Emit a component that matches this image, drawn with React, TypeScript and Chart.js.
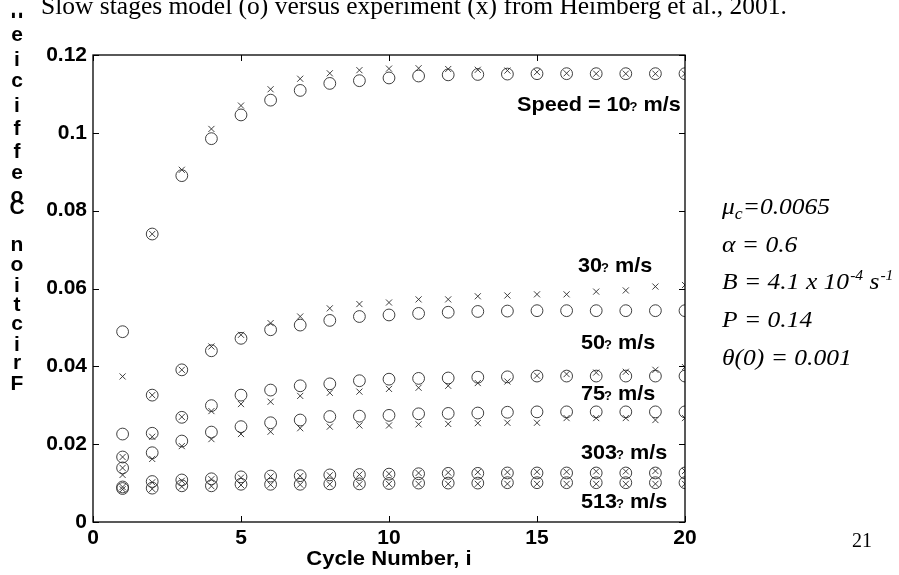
import React, { useEffect, useRef } from "react";
import { Chart, registerables } from "chart.js";

Chart.register(...registerables);

// ---------------- data ----------------
const cycles = [1, 2, 3, 4, 5, 6, 7, 8, 9, 10, 11, 12, 13, 14, 15, 16, 17, 18, 19, 20];

const model10 = [0.0489, 0.074, 0.089, 0.0985, 0.1046, 0.1084, 0.1109, 0.1127, 0.1134, 0.1141, 0.1146, 0.1149, 0.115, 0.1151, 0.1152, 0.1152, 0.1152, 0.1152, 0.1152, 0.1152];
const exp10 = [0.0374, 0.074, 0.0905, 0.101, 0.107, 0.1112, 0.1139, 0.1153, 0.1161, 0.1165, 0.1166, 0.1164, 0.1162, 0.116, 0.1156, 0.1153, 0.1152, 0.1152, 0.1152, 0.1152];

const model30 = [0.0226, 0.0326, 0.0391, 0.044, 0.0472, 0.0494, 0.0506, 0.0518, 0.0528, 0.0532, 0.0536, 0.0539, 0.0541, 0.0542, 0.0543, 0.0543, 0.0543, 0.0543, 0.0543, 0.0543];
const exp30 = [0.0167, 0.0326, 0.0391, 0.0451, 0.0481, 0.0511, 0.0528, 0.0549, 0.056, 0.0564, 0.0572, 0.0572, 0.058, 0.0582, 0.0585, 0.0585, 0.0592, 0.0595, 0.0605, 0.0609];

const model50 = [0.0167, 0.0228, 0.0269, 0.0299, 0.0326, 0.0339, 0.035, 0.0355, 0.0363, 0.0367, 0.0369, 0.037, 0.0372, 0.0373, 0.0375, 0.0375, 0.0375, 0.0375, 0.0375, 0.0375];
const exp50 = [0.0139, 0.0219, 0.027, 0.0285, 0.0303, 0.0309, 0.0324, 0.0332, 0.0335, 0.0342, 0.0345, 0.035, 0.0357, 0.0361, 0.0376, 0.038, 0.0384, 0.0386, 0.0391, 0.0398];

const model75 = [0.0139, 0.0178, 0.0208, 0.0231, 0.0245, 0.0255, 0.0262, 0.0271, 0.0272, 0.0274, 0.0278, 0.0279, 0.028, 0.0282, 0.0283, 0.0283, 0.0283, 0.0283, 0.0283, 0.0283];
const exp75 = [0.0121, 0.0162, 0.0195, 0.0213, 0.0226, 0.0232, 0.0241, 0.0245, 0.0248, 0.0248, 0.0251, 0.0252, 0.0254, 0.0255, 0.0255, 0.0267, 0.0267, 0.0267, 0.0262, 0.0267];

const model303 = [0.009, 0.0104, 0.0108, 0.0111, 0.0116, 0.0118, 0.0119, 0.0121, 0.0122, 0.0123, 0.0124, 0.0125, 0.0125, 0.0126, 0.0126, 0.0126, 0.0126, 0.0126, 0.0126, 0.0126];
const exp303 = [0.009, 0.0102, 0.0106, 0.011, 0.0114, 0.0117, 0.0118, 0.012, 0.0122, 0.0124, 0.0126, 0.0127, 0.0128, 0.0128, 0.0129, 0.0129, 0.013, 0.013, 0.0131, 0.0131];

const model513 = [0.0086, 0.0087, 0.0093, 0.0093, 0.0097, 0.0097, 0.0097, 0.0098, 0.0098, 0.0099, 0.01, 0.01, 0.01, 0.0101, 0.0101, 0.0101, 0.0101, 0.0101, 0.0101, 0.0101];
const exp513 = [0.0084, 0.0085, 0.0091, 0.0092, 0.0095, 0.0096, 0.0096, 0.0097, 0.0097, 0.0098, 0.0098, 0.0098, 0.0098, 0.0098, 0.0098, 0.0098, 0.0098, 0.0098, 0.0098, 0.0098];

const speedNames = ["10", "30", "50", "75", "303", "513"];
const modelSeries = [model10, model30, model50, model75, model303, model513];
const expSeries = [exp10, exp30, exp50, exp75, exp303, exp513];

const xTickValues = [0, 5, 10, 15, 20];
const yTickValues = [0, 0.02, 0.04, 0.06, 0.08, 0.1, 0.12];

const titleText = "Slow stages model (o) versus experiment (x) from Heimberg et al., 2001.";
const xTitle = "Cycle Number, i";
const yTitle = "Friction Coefficient";
const pageNumber = "21";

// ---------------- styles ----------------
const SANS = '"Liberation Sans", Arial, Helvetica, sans-serif';
const SERIF = '"Liberation Serif", "Times New Roman", serif';
const MARK = "#2a2a2a";

function txt(ctx: CanvasRenderingContext2D, s: string, x: number, y: number, font: string, sx = 1): number {
  ctx.save();
  ctx.font = font;
  ctx.translate(x, y);
  ctx.scale(sx, 1);
  ctx.fillText(s, 0, 0);
  const w = ctx.measureText(s).width * sx;
  ctx.restore();
  return w;
}

const decorPlugin = {
  id: "decor",
  afterDraw(chart: any) {
    const ctx: CanvasRenderingContext2D = chart.ctx;
    const a = chart.chartArea;
    const xs = chart.scales.x;
    const ys = chart.scales.y;
    ctx.save();

    // frame
    ctx.strokeStyle = "#000";
    ctx.lineWidth = 1.3;
    ctx.strokeRect(a.left, a.top, a.right - a.left, a.bottom - a.top);

    // inward ticks
    const tl = 6;
    ctx.lineWidth = 1;
    ctx.beginPath();
    xTickValues.forEach((v) => {
      const px = Math.round(xs.getPixelForValue(v)) + 0.5;
      ctx.moveTo(px, a.bottom);
      ctx.lineTo(px, a.bottom - tl);
      ctx.moveTo(px, a.top);
      ctx.lineTo(px, a.top + tl);
    });
    yTickValues.forEach((v) => {
      const py = Math.round(ys.getPixelForValue(v)) + 0.5;
      ctx.moveTo(a.left, py);
      ctx.lineTo(a.left + tl, py);
      ctx.moveTo(a.right, py);
      ctx.lineTo(a.right - tl, py);
    });
    ctx.stroke();

    ctx.fillStyle = "#000";
    ctx.textAlign = "left";
    ctx.textBaseline = "alphabetic";

    // speed labels
    const labelPos = [
      { x: 517, y: 111 },
      { x: 578, y: 272 },
      { x: 581, y: 349 },
      { x: 581, y: 400 },
      { x: 581, y: 459 },
      { x: 581, y: 508 },
    ];
    const big = `bold 21px ${SANS}`;
    const small = `bold 13px ${SANS}`;
    speedNames.forEach((name, i) => {
      const p = labelPos[i];
      const main = (i === 0 ? "Speed = " : "") + name;
      let x = p.x;
      x += txt(ctx, main, x, p.y, big, 1.03) - 1;
      x += txt(ctx, "?", x, p.y, small, 1);
      txt(ctx, " m/s", x, p.y, big, 1.03);
    });

    // x axis title
    ctx.textAlign = "center";
    txt(ctx, xTitle, (a.left + a.right) / 2, 565, `bold 21px ${SANS}`, 1.05);
    ctx.textAlign = "left";

    // y axis title: upright stacked letters (bottom to top)
    ctx.save();
    ctx.beginPath();
    ctx.rect(0, 12.7, 40, 575);
    ctx.clip();
    ctx.font = `bold 21px ${SANS}`;
    ctx.textAlign = "center";
    const centers = [383, 363, 343, 324, 304, 284, 265, 245, null, 207, 196, 173, 150, 127, 104, 81, 58, 35, 12, -10];
    yTitle.split("").forEach((ch, k) => {
      const cy = centers[k];
      if (ch === " " || cy === null) return;
      const m = ctx.measureText(ch);
      const base = cy + (m.actualBoundingBoxAscent - m.actualBoundingBoxDescent) / 2;
      ctx.fillText(ch, 17, base);
    });
    ctx.restore();

    // title (top, partly cut)
    ctx.textAlign = "left";
    txt(ctx, titleText, 41, 14, `25.5px ${SERIF}`, 1);

    // parameter annotations
    const it = `italic 23px ${SERIF}`;
    const itSub = `italic 16px ${SERIF}`;
    const itSup = `italic 14px ${SERIF}`;
    const sx = 1.11;
    const X0 = 722;
    let x = X0;
    x += txt(ctx, "\u03bc", x, 214, it, sx);
    x += txt(ctx, "c", x, 219, itSub, sx);
    txt(ctx, "=0.0065", x, 214, it, sx);

    txt(ctx, "\u03b1 = 0.6", X0, 252, it, sx);

    x = X0;
    x += txt(ctx, "B = 4.1 x 10", x, 289, it, sx);
    x += txt(ctx, "-4", x + 1, 280, itSup, sx) + 1;
    x += txt(ctx, " s", x, 289, it, sx);
    txt(ctx, "-1", x + 1, 280, itSup, sx);

    txt(ctx, "P = 0.14", X0, 327, it, sx);
    txt(ctx, "\u03b8(0) = 0.001", X0, 365, it, sx);

    // page number
    txt(ctx, pageNumber, 852, 547, `20px ${SERIF}`, 1);

    ctx.restore();
  },
};

export default function App() {
  const ref = useRef<HTMLCanvasElement | null>(null);

  useEffect(() => {
    if (!ref.current) return;
    const datasets: any[] = [];
    speedNames.forEach((name, i) => {
      datasets.push({
        label: `model ${name}`,
        data: cycles.map((c, j) => ({ x: c, y: modelSeries[i][j] })),
        pointStyle: "circle",
        pointRadius: 5.9,
        borderColor: MARK,
        backgroundColor: "rgba(0,0,0,0)",
        borderWidth: 0.9,
        showLine: false,
      });
      datasets.push({
        label: `experiment ${name}`,
        data: cycles.map((c, j) => ({ x: c, y: expSeries[i][j] })),
        pointStyle: "crossRot",
        pointRadius: 4.3,
        borderColor: MARK,
        backgroundColor: MARK,
        borderWidth: 0.9,
        showLine: false,
      });
    });

    const tickFont = { family: SANS, size: 21, weight: "bold" as const };

    const chart = new Chart(ref.current, {
      type: "scatter",
      data: { datasets },
      options: {
        animation: false,
        responsive: false,
        devicePixelRatio: 1,
        events: [],
        layout: { padding: { left: 0, right: 214, top: 55, bottom: 0 } },
        plugins: {
          legend: { display: false },
          tooltip: { enabled: false },
          title: { display: false },
        },
        scales: {
          x: {
            type: "linear",
            min: 0,
            max: 20,
            afterBuildTicks: (s: any) => {
              s.ticks = xTickValues.map((v) => ({ value: v }));
            },
            afterFit: (s: any) => {
              s.height = 53;
            },
            ticks: {
              color: "#000",
              font: tickFont,
              padding: 4,
              maxRotation: 0,
              callback: (v: any) => String(v),
            },
            grid: { display: false, drawTicks: false },
            border: { display: false },
          },
          y: {
            type: "linear",
            min: 0,
            max: 0.12,
            afterBuildTicks: (s: any) => {
              s.ticks = yTickValues.map((v) => ({ value: v }));
            },
            afterFit: (s: any) => {
              s.width = 93;
            },
            ticks: {
              color: "#000",
              font: tickFont,
              padding: 6,
              callback: (v: any) => String(Number(Number(v).toFixed(2))),
            },
            grid: { display: false, drawTicks: false },
            border: { display: false },
          },
        },
      },
      plugins: [decorPlugin],
    } as any);

    return () => chart.destroy();
  }, []);

  return (
    <div style={{ position: "absolute", left: 0, top: 0, width: 899, height: 575, background: "#fff" }}>
      <canvas ref={ref} width={899} height={575} style={{ display: "block" }} />
    </div>
  );
}
